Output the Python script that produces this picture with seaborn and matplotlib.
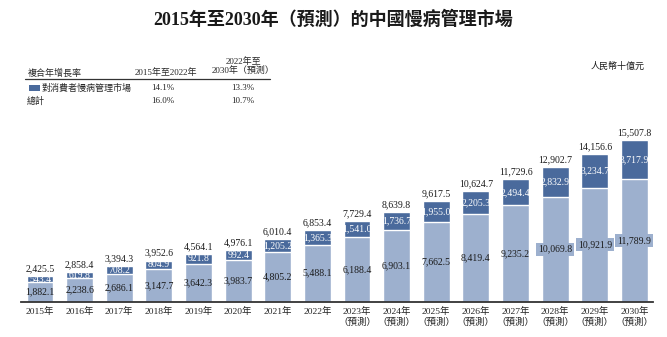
import matplotlib
matplotlib.use("Agg")
import matplotlib.pyplot as plt
import seaborn as sns
import pandas as pd
from matplotlib.lines import Line2D
from matplotlib.patches import Rectangle

years = ["2015年", "2016年", "2017年", "2018年", "2019年", "2020年", "2021年", "2022年",
         "2023年\n（預測）", "2024年\n（預測）", "2025年\n（預測）", "2026年\n（預測）",
         "2027年\n（預測）", "2028年\n（預測）", "2029年\n（預測）", "2030年\n（預測）"]
lower = [1882.1, 2238.6, 2686.1, 3147.7, 3642.3, 3983.7, 4805.2, 5488.1,
         6188.4, 6903.1, 7662.5, 8419.4, 9235.2, 10069.8, 10921.9, 11789.9]
upper = [543.4, 619.8, 708.2, 804.9, 921.8, 992.4, 1205.2, 1365.3,
         1541.0, 1736.7, 1955.0, 2205.3, 2494.4, 2832.9, 3234.7, 3717.9]
totals = [2425.5, 2858.4, 3394.3, 3952.6, 4564.1, 4976.1, 6010.4, 6853.4,
          7729.4, 8639.8, 9617.5, 10624.7, 11729.6, 12902.7, 14156.6, 15507.8]

dark = "#4A6A9C"
light = "#9DB0CE"
fam = ["Liberation Serif", "Noto Sans CJK TC"]

sns.set_theme(style="white")
plt.rcParams["font.family"] = fam

df = pd.DataFrame({"year": years, "lower": lower, "upper": upper, "total": totals})

fig = plt.figure(figsize=(6.67, 3.37), dpi=100)
ax = fig.add_axes([21 / 667, 35.3 / 337, 632 / 667, 171.7 / 337])

sns.barplot(data=df, x="year", y="total", color=dark, saturation=1, width=0.68, ax=ax)
sns.barplot(data=df, x="year", y="lower", color=light, saturation=1, width=0.68, ax=ax)

ax.set_xlim(-0.48, 15.47)
ax.set_ylim(0, 16480)
for s in ["top", "left", "right"]:
    ax.spines[s].set_visible(False)
ax.spines["bottom"].set_color("#333333")
ax.spines["bottom"].set_linewidth(1.3)
ax.set_yticks([])
ax.set_xlabel("")
ax.set_ylabel("")
ax.tick_params(axis="x", length=0, pad=4, labelsize=6.8, colors="#222222")

for i in range(len(years)):
    lo, up, tot = lower[i], upper[i], totals[i]
    kw = {}
    if i >= 13:
        kw["bbox"] = dict(facecolor=light, edgecolor="none", pad=1.5)
    ax.text(i, lo / 2, f"{lo:,.1f}", ha="center", va="center", fontsize=7,
            color="#1a1a1a", **kw)
    ax.text(i, lo + up / 2, f"{up:,.1f}", ha="center", va="center", fontsize=7,
            color="white")
    ax.annotate(f"{tot:,.1f}", (i, tot), xytext=(0, 2), textcoords="offset points",
                ha="center", va="bottom", fontsize=7, color="#1a1a1a")

fig.text(0.5, 1 - 20 / 337, "2015年至2030年（預測）的中國慢病管理市場", ha="center",
         va="center", fontsize=13, fontweight="bold", color="#1a1a1a")
fig.text(645 / 667, 1 - 66 / 337, "人民幣十億元", ha="right", va="center",
         fontsize=6.5, style="italic", color="#1a1a1a")

# table
ty = lambda y: 1 - y / 337
fs = 6.5
fig.text(28 / 667, ty(73), "複合年增長率", ha="left", va="center", fontsize=fs)
fig.text(166 / 667, ty(73), "2015年至2022年", ha="center", va="center", fontsize=fs)
fig.text(243 / 667, ty(66), "2022年至\n2030年（預測）", ha="center", va="center",
         fontsize=fs, linespacing=1.1)
fig.add_artist(Line2D([25 / 667, 270 / 667], [ty(79), ty(79)], color="#333333",
                      linewidth=0.9, transform=fig.transFigure))
fig.add_artist(Rectangle((29 / 667, ty(91)), 11 / 667, 6 / 337, facecolor=dark,
                         edgecolor="none", transform=fig.transFigure))
fig.text(42 / 667, ty(88), "對消費者慢病管理市場", ha="left", va="center", fontsize=fs)
fig.text(163 / 667, ty(88), "14.1%", ha="center", va="center", fontsize=fs)
fig.text(243 / 667, ty(88), "13.3%", ha="center", va="center", fontsize=fs)
fig.text(27 / 667, ty(101), "總計", ha="left", va="center", fontsize=fs)
fig.text(163 / 667, ty(101), "16.0%", ha="center", va="center", fontsize=fs)
fig.text(243 / 667, ty(101), "10.7%", ha="center", va="center", fontsize=fs)

fig.savefig("out.png", dpi=100)
